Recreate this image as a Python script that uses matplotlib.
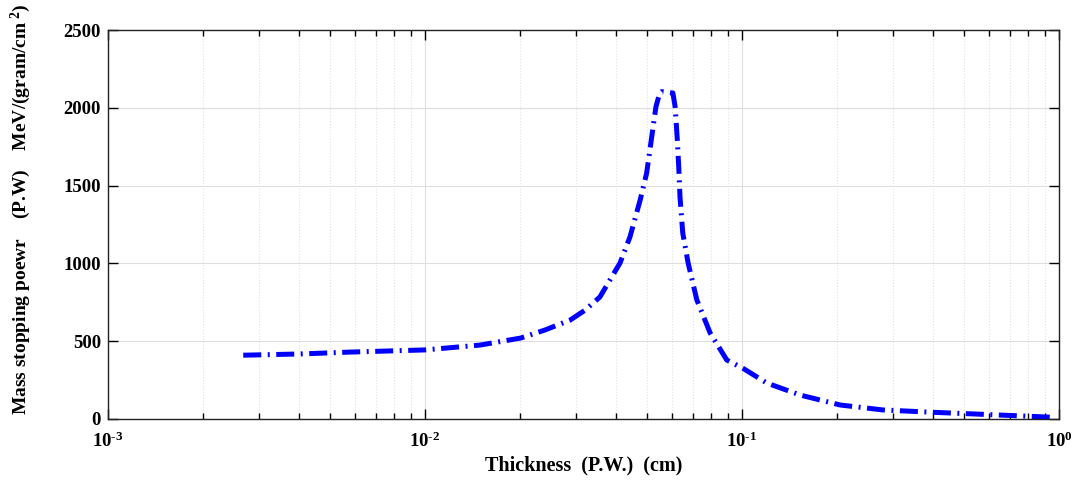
import matplotlib
matplotlib.use("Agg")
import matplotlib.pyplot as plt
from matplotlib.ticker import LogLocator, NullFormatter, MultipleLocator, FuncFormatter
import math

plt.rcParams['font.family'] = ['Liberation Serif', 'DejaVu Serif']
plt.rcParams['font.weight'] = 'bold'
plt.rcParams['mathtext.fontset'] = 'custom'
plt.rcParams['mathtext.rm'] = 'Liberation Serif:bold'
plt.rcParams['mathtext.it'] = 'Liberation Serif:bold:italic'
plt.rcParams['mathtext.bf'] = 'Liberation Serif:bold'

thickness = [0.00267, 0.00404, 0.00579, 0.0100, 0.0149, 0.0200, 0.0239, 0.0287,
             0.0320, 0.0356, 0.0412, 0.0443, 0.0477, 0.0500, 0.0535, 0.0549,
             0.0558, 0.0605, 0.0615, 0.0625, 0.0632, 0.0637, 0.0650, 0.0676,
             0.0720, 0.0793, 0.0895, 0.1008, 0.1197, 0.1525, 0.2039, 0.2786,
             0.4009, 0.5757, 0.957]
stopping = [410, 418, 430, 444, 475, 520, 572, 636,
            700, 784, 1002, 1170, 1407, 1580, 2007, 2090,
            2104, 2095, 2007, 1790, 1600, 1429, 1195, 1002,
            765, 553, 379, 325, 231, 154, 90, 58,
            43, 30, 11]

fig = plt.figure(figsize=(10.74, 4.84), dpi=100)
ax = fig.add_axes([0.1006, 0.1343, 0.8855, 0.8037])

ax.plot(thickness, stopping, color='#0000ff', linewidth=3.6,
        dashes=(3.6, 1.3, 0.4, 1.3))

ax.set_xscale('log')
ax.set_xlim(1e-3, 1)
ax.set_ylim(0, 2500)
ax.yaxis.set_major_locator(MultipleLocator(500))
ax.xaxis.set_major_locator(LogLocator(base=10))
ax.xaxis.set_minor_locator(LogLocator(base=10, subs=range(2, 10)))
ax.xaxis.set_minor_formatter(NullFormatter())


def logfmt(v, pos):
    e = int(round(math.log10(v)))
    if e < 0:
        return r'$\mathdefault{10^{\text{-}%d}}$' % (-e)
    return r'$\mathdefault{10^{%d}}$' % e


ax.xaxis.set_major_formatter(FuncFormatter(logfmt))

ax.grid(True, which='major', color='#dedede', linewidth=0.8, linestyle='-')
ax.grid(True, which='minor', axis='x', color='#e2e2e2', linewidth=0.8, linestyle=':')
ax.set_axisbelow(True)

ax.tick_params(which='major', direction='in', length=7.5, width=1, top=True, right=True,
               labelsize=13.5, pad=5)
ax.tick_params(axis='x', which='major', pad=9)
ax.tick_params(which='minor', direction='in', length=4, width=1, top=True, right=True)
for s in ax.spines.values():
    s.set_linewidth(1.0)
    s.set_color('#222222')

ax.set_xlabel('Thickness  (P.W.)  (cm)', fontsize=14.5, fontweight='bold', labelpad=3)
ax.set_ylabel(r'Mass stopping poewr    (P.W)    MeV/(gram/cm$^{\ 2}$)', fontsize=14,
              fontweight='bold')
ax.yaxis.set_label_coords(-0.079, 0.54)

fig.savefig('out.png', dpi=100)
